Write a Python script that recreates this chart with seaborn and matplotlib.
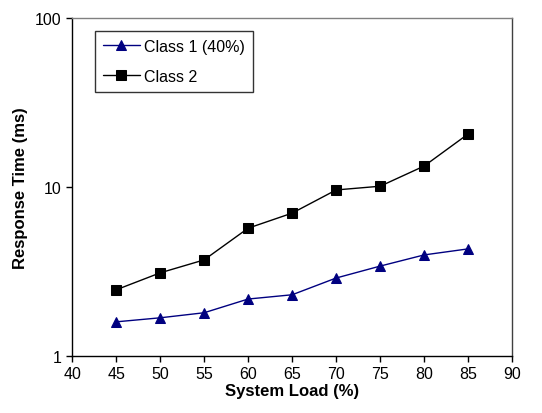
import matplotlib
matplotlib.use("Agg")
import matplotlib.pyplot as plt
from matplotlib.ticker import FixedLocator, NullLocator, FixedFormatter
import numpy as np
import pandas as pd
import seaborn as sns

## --- data
load = [45, 50, 55, 60, 65, 70, 75, 80, 85]
class1 = [1.59, 1.68, 1.80, 2.17, 2.30, 2.89, 3.40, 3.96, 4.30]
class2 = [2.46, 3.10, 3.70, 5.70, 7.00, 9.60, 10.1, 13.3, 20.6]
series_names = ["Class 1 (40%)", "Class 2"]

df = pd.DataFrame({
    "load": load * 2,
    "time": class1 + class2,
    "series": [series_names[0]] * len(load) + [series_names[1]] * len(load),
})

sns.set_theme(style="ticks")
plt.rcParams['font.family'] = ['Liberation Sans', 'DejaVu Sans']
plt.rcParams['text.color'] = 'black'
plt.rcParams['axes.labelcolor'] = 'black'

fig = plt.figure(figsize=(5.42, 4.14), dpi=100)
ax = fig.add_axes([0.133, 0.138, 0.812, 0.816])

sns.lineplot(data=df, x="load", y="time", hue="series", style="series",
             palette={series_names[0]: "#000080", series_names[1]: "#000000"},
             markers={series_names[0]: "^", series_names[1]: "s"},
             dashes=False, markersize=7, linewidth=1.0,
             markeredgecolor=None, ax=ax)

ax.set_yscale("log")
ax.set_ylim(1, 100)
ax.set_xlim(40, 90)
ax.yaxis.set_major_locator(FixedLocator([1, 10, 100]))
ax.yaxis.set_major_formatter(FixedFormatter(["1", "10", "100"]))
ax.yaxis.set_minor_locator(NullLocator())
ax.set_xticks(np.arange(40, 91, 5))

ax.tick_params(axis="both", direction="out", length=4, width=1,
               labelsize=11.5, colors="black")
for s in ax.spines.values():
    s.set_color("black")
    s.set_linewidth(1.0)
ax.spines["top"].set_color("#808080")
ax.spines["right"].set_color("#404040")

ax.set_xlabel("System Load (%)", fontsize=12, fontweight="bold", labelpad=1)
ax.set_ylabel("Response Time (ms)", fontsize=12, fontweight="bold", labelpad=5)

leg = ax.legend(loc="upper left", bbox_to_anchor=(0.052, 0.962), fontsize=11.5,
                frameon=True, fancybox=False, edgecolor="black",
                handlelength=2.3, borderpad=0.5, labelspacing=0.95,
                handletextpad=0.25, borderaxespad=0)
leg.get_frame().set_linewidth(1.0)
leg.set_title(None)
for t in leg.get_texts():
    t.set_color("black")

fig.savefig("out.png", dpi=100)
